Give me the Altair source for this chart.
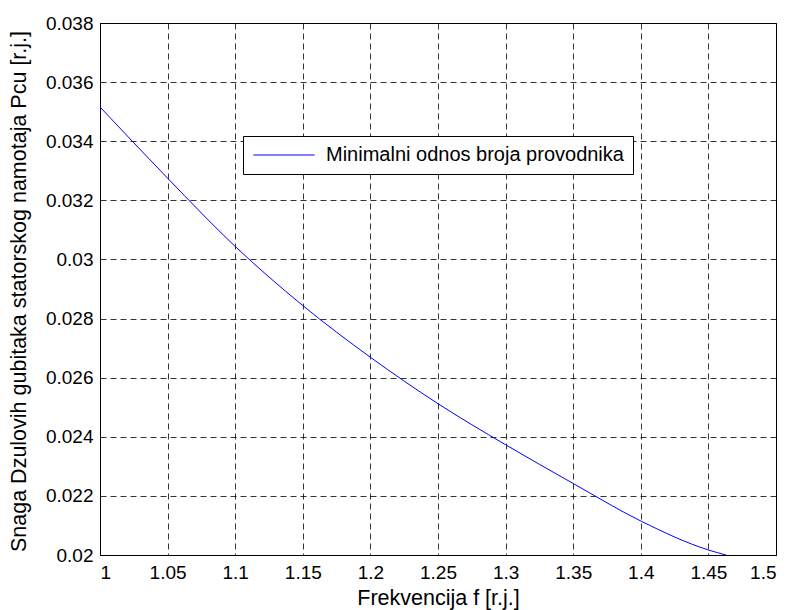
import altair as alt
import pandas as pd

# values
freq = [1.0, 1.05, 1.1, 1.15, 1.2, 1.25, 1.3, 1.35, 1.4, 1.45, 1.463]
pcu = [0.03516, 0.03275, 0.03044, 0.02844, 0.02669, 0.02512, 0.02373, 0.02242, 0.02115, 0.02017, 0.0200]
series_name = ["Minimalni odnos broja provodnika"] * len(freq)

x_ticks = [1.0, 1.05, 1.1, 1.15, 1.2, 1.25, 1.3, 1.35, 1.4, 1.45, 1.5]
y_ticks = [0.02, 0.022, 0.024, 0.026, 0.028, 0.03, 0.032, 0.034, 0.036, 0.038]

df = pd.DataFrame({"f": freq, "p": pcu, "s": series_name})

FONT = "Liberation Sans"

chart = alt.Chart(df).mark_line(color="#0000ff", strokeWidth=1, interpolate="monotone", clip=True).encode(
    x=alt.X("f:Q", scale=alt.Scale(domain=[1.0, 1.5], nice=False, zero=False),
            axis=alt.Axis(values=x_ticks, format="~g", title="Frekvencija f [r.j.]",
                          titleX=338, titleY=49, titleAlign="center",
                          titleBaseline="alphabetic")),
    y=alt.Y("p:Q", scale=alt.Scale(domain=[0.02, 0.038], nice=False, zero=False),
            axis=alt.Axis(values=y_ticks, format="~g",
                          title="Snaga Dzulovih gubitaka statorskog namotaja Pcu [r.j.]",
                          titleX=-70, titleY=268, titleAlign="center", titleAngle=270)),
    color=alt.Color("s:N", scale=alt.Scale(range=["#0000ff"]),
                    legend=alt.Legend(title=None, orient="none", legendX=143, legendY=113,
                                      symbolType="M-3.4,0L3.4,0", symbolSize=324,
                                      symbolStrokeWidth=1, symbolOffset=22,
                                      labelFontSize=20, labelFont=FONT, labelColor="#000000",
                                      labelOffset=32, labelLimit=0, padding=9,
                                      strokeColor="#000000",
                                      fillColor="#ffffff", cornerRadius=0)),
).properties(
    width=676, height=532,
    padding={"left": 100, "top": 23, "right": 18, "bottom": 55},
    autosize=alt.AutoSizeParams(type="none"),
    background="#ffffff",
).configure_view(
    stroke="#000000", strokeWidth=1
).configure_axis(
    grid=True, gridColor="#000000", gridOpacity=1, gridDash=[6, 4], gridWidth=0.8,
    domainColor="#000000", domainWidth=1, ticks=False,
    labelFont=FONT, labelFontSize=19, labelColor="#000000", labelPadding=7,
    titleFont=FONT, titleFontSize=21.5, titleFontWeight="normal", titleColor="#000000",
).configure_axisX(
    labelPadding=8
)

chart.save("out.html", embed_options={"renderer": "svg", "actions": False})
